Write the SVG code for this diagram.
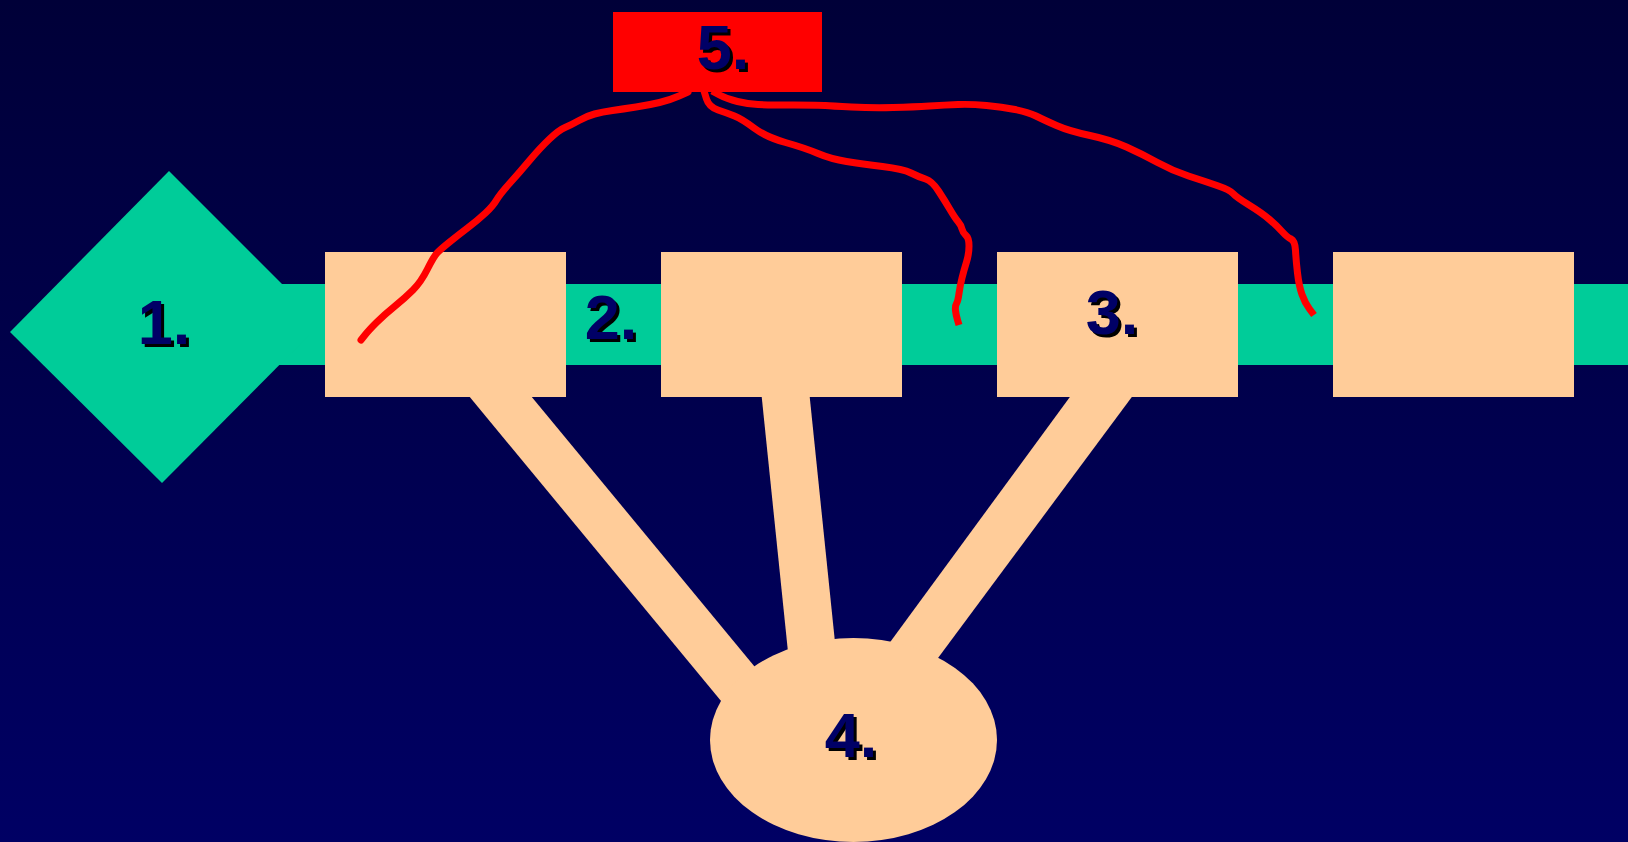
<svg xmlns="http://www.w3.org/2000/svg" width="1628" height="842" viewBox="0 0 1628 842">
<defs>
<linearGradient id="bg" x1="0" y1="0" x2="0" y2="1">
<stop offset="0" stop-color="#000038"/>
<stop offset="1" stop-color="#000064"/>
</linearGradient>
</defs>
<style>
.green{fill:#00CC99}
.peach{fill:#FFCC99}
.red5{fill:#FF0000}
.lbl{font-family:"Liberation Sans",Arial,sans-serif;font-weight:bold;font-size:63px;text-anchor:middle}
.sh{fill:#000000}
.tx{fill:#000066}
.curve{fill:none;stroke:#FF0000;stroke-width:7;stroke-linejoin:round;stroke-linecap:round}
</style>
<rect x="0" y="0" width="1628" height="842" fill="url(#bg)"/>
<g id="connectors">
<rect id="band" class="green" x="250" y="284" width="1378" height="81"/>
<polygon id="bar-1-4" class="peach" points="464,390 526,390 812,736 750,736"/>
<polygon id="bar-2-4" class="peach" points="761,390 809,390 843,720 795,720"/>
<polygon id="bar-3-4" class="peach" points="1075,390 1137,390 892,720 833,720"/>
</g>
<g id="node1">
<polygon class="green" points="169,171 321,323 162,483 10,332"/>
<text class="lbl sh" x="167" y="347">1.</text>
<text class="lbl tx" x="164" y="344">1.</text>
</g>
<g id="nodeA">
<rect class="peach" x="325" y="252" width="241" height="145"/>
</g>
<g id="node2">
<text class="lbl sh" x="614" y="342">2.</text>
<text class="lbl tx" x="611" y="339">2.</text>
</g>
<g id="nodeB">
<rect class="peach" x="661" y="252" width="241" height="145"/>
</g>
<g id="node3">
<rect class="peach" x="997" y="252" width="241" height="145"/>
<text class="lbl sh" x="1115" y="337">3.</text>
<text class="lbl tx" x="1112" y="334">3.</text>
</g>
<g id="nodeC">
<rect class="peach" x="1333" y="252" width="241" height="145"/>
</g>
<g id="node4">
<ellipse class="peach" cx="853.5" cy="740" rx="143.5" ry="102"/>
<text class="lbl sh" x="854" y="760">4.</text>
<text class="lbl tx" x="851" y="757">4.</text>
</g>
<g id="node5">
<rect class="red5" x="613" y="12" width="209" height="80"/>
<text class="lbl sh" x="726" y="72">5.</text>
<text class="lbl tx" x="723" y="69">5.</text>
</g>
<g id="links">
<path class="curve" d="M688,92 L679,96 Q670,100 659.5,102.5 Q649,105 636,107 Q623,109 612.5,110.5 Q602,112 594.5,114 Q587,116 579,120.5 Q571,125 565,127.5 Q559,130 549.5,139 Q540,148 529.5,160.5 Q519,173 509.5,183.5 Q500,194 496.5,200 Q493,206 485.5,213 Q478,220 467.5,228 Q457,236 449,242.5 Q441,249 437.5,252.5 Q434,256 427.5,269 Q421,282 413,290 Q405,298 394.5,306.5 Q384,315 376.5,322.5 Q369,330 365,335 L361,340"/>
<path class="curve" style="stroke-linecap:butt" d="M704,91 L706.5,99 Q709,107 718,110 Q727,113 734.5,116 Q742,119 754,128 Q766,137 785.5,142.5 Q805,148 818,153.5 Q831,159 846.5,161.5 Q862,164 882.5,166.5 Q903,169 911,173 Q919,177 925.5,179 Q932,181 938.5,191 Q945,201 950,209.5 Q955,218 958,221.5 Q961,225 962,229 Q963,233 966,235.5 Q969,238 969,246 Q969,254 966.5,262 Q964,270 962,278 Q960,286 959,293.5 Q958,301 956.5,303.5 Q955,306 955.5,310.5 Q956,315 957.5,320 L959,325"/>
<path class="curve" style="stroke-linecap:butt" d="M712,91 L719.5,95 Q727,99 737.5,101.5 Q748,104 758,104.5 Q768,105 794,105 Q820,105 825.5,105.5 Q831,106 851.5,107 Q872,108 893,107.5 Q914,107 929.5,106 Q945,105 958,104.5 Q971,104 986.5,105.5 Q1002,107 1015,109.5 Q1028,112 1036,116 Q1044,120 1056.5,125.5 Q1069,131 1090,135.5 Q1111,140 1126.5,147 Q1142,154 1157.5,162.5 Q1173,171 1188.5,176 Q1204,181 1217,185.5 Q1230,190 1233,193.5 Q1236,197 1249,205 Q1262,213 1269.5,219.5 Q1277,226 1282,231.5 Q1287,237 1291,239 Q1295,241 1295.5,250.5 Q1296,260 1297.5,273 Q1299,286 1302,294.5 Q1305,303 1309.5,309 L1314,315"/>
</g>
</svg>
